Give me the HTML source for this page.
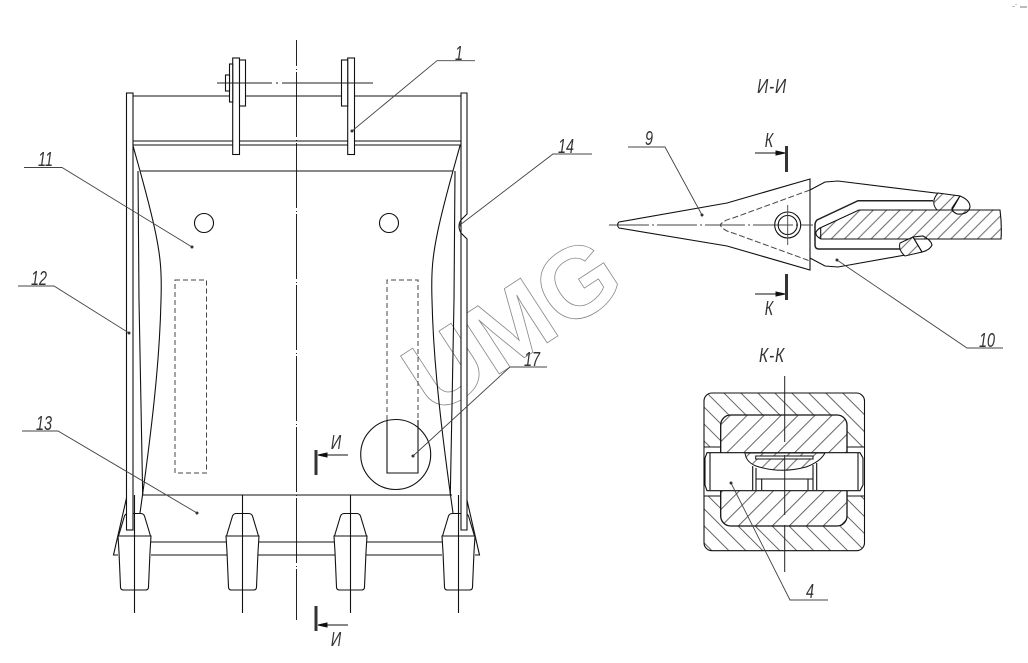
<!DOCTYPE html>
<html><head><meta charset="utf-8"><style>
html,body{margin:0;padding:0;background:#fff;width:1028px;height:663px;overflow:hidden}
svg{display:block}
text{font-family:"Liberation Sans",sans-serif;font-style:italic;font-size:20px;fill:#333;text-anchor:middle}
.m{fill:none;stroke:#111;stroke-width:1.1}
.t{fill:none;stroke:#444;stroke-width:.9}
.c{fill:none;stroke:#222;stroke-width:1;stroke-dasharray:65 3 1 2}
.d{fill:none;stroke:#444;stroke-width:1;stroke-dasharray:5 3}
.k{stroke:#333;stroke-width:3;fill:none}
</style></head><body>
<svg width="1028" height="663" viewBox="0 0 1028 663" xmlns="http://www.w3.org/2000/svg">
<defs>
<pattern id="hf" width="12" height="12" patternUnits="userSpaceOnUse" patternTransform="rotate(45)"><rect width="12" height="12" fill="#fff"/><line x1="6" y1="0" x2="6" y2="12" stroke="#555" stroke-width=".9"/></pattern>
<pattern id="hb" width="12" height="12" patternUnits="userSpaceOnUse" patternTransform="rotate(-45)"><rect width="12" height="12" fill="#fff"/><line x1="6" y1="0" x2="6" y2="12" stroke="#555" stroke-width=".9"/></pattern>
<pattern id="hs" width="9.400" height="9.400" patternUnits="userSpaceOnUse" patternTransform="rotate(45)"><rect width="9.400" height="9.400" fill="#fff"/><line x1="4.700" y1="0" x2="4.700" y2="9.400" stroke="#555" stroke-width=".9"/></pattern>
<g id="side">
<path class="m" d="M132.700,144.700 C140,171 150,205 156,235 C160,255 162,270 161,300 C160,345 156,400 140,513"/>
<path class="m" d="M138,171 L139,300 L142.700,495"/>
<path class="m" d="M126.500,498 L113.500,555 L118,555"/>
</g>
<g id="tooth">
<path class="m" d="M-16,536 L-10,516 Q-9,513.500 -6,513.500 L6,513.500 Q9,513.500 10,516 L16,536"/>
<path d="M-16.500,536 L16.500,536 L15.500,552 L14,587 Q14,590 11,590 L-11,590 Q-14,590 -14,587 L-15.500,552 Z" fill="#fff" stroke="#111" stroke-width="1.100"/>
<line class="m" x1="0" y1="495" x2="0" y2="613"/>
</g>
</defs>
<rect width="1028" height="663" fill="#fff"/>

<!-- watermark -->
<text transform="translate(433,417) rotate(-33)" style="font-family:'Liberation Sans',sans-serif;font-style:normal;font-weight:bold;font-size:100px;fill:none;stroke:#888;stroke-width:.8;text-anchor:start">UMG</text>

<!-- bucket -->
<line class="c" x1="296.500" y1="1" x2="296.500" y2="620"/>
<rect x="290" y="0" width="12" height="40" fill="#fff"/>
<use href="#side"/>
<use href="#side" transform="translate(593,0) scale(-1,1)"/>
<g class="m">
<line x1="132.500" y1="96" x2="461" y2="96"/>
<line x1="132.500" y1="141" x2="461" y2="141"/>
<line x1="132.500" y1="145" x2="461" y2="145"/>
<line x1="140" y1="171" x2="453" y2="171"/>
<line x1="143" y1="495" x2="452" y2="495"/>
<line x1="151" y1="542" x2="442" y2="542"/>
<line x1="151" y1="555" x2="442" y2="555"/>
</g>
<g fill="#fff" stroke="#111" stroke-width="1.100">
<rect x="232.700" y="58" width="6.800" height="96.500"/>
<rect x="239.500" y="60" width="6" height="46"/>
<rect x="229.500" y="64" width="3.200" height="38"/>
<rect x="225.500" y="75" width="4" height="16"/>
<rect x="347.700" y="58" width="6.800" height="96.500"/>
<rect x="341.500" y="60" width="6.200" height="46"/>
</g>
<line x1="217" y1="83" x2="373" y2="83" stroke="#222" stroke-width="1" stroke-dasharray="55 4 2 4 200"/>
<circle class="m" cx="204" cy="223" r="9.500"/>
<circle class="m" cx="389" cy="223" r="9.500"/>
<rect class="d" x="175" y="280" width="31.500" height="193"/>
<path class="d" d="M387,420 L387,280 L418,280 L418,420"/>
<circle class="m" cx="395.700" cy="454.500" r="35"/>
<path class="m" d="M387,420 L387,473 L418,473 L418,420"/>
<use href="#tooth" x="134.500"/>
<use href="#tooth" x="242.500"/>
<use href="#tooth" x="350.500"/>
<use href="#tooth" x="458.500"/>
<!-- side plates over adapters -->
<rect x="126.500" y="93" width="6.500" height="437" fill="#fff" stroke="#111" stroke-width="1.100"/>
<path d="M461,93 L467,93 L467,214 L461,220 Q457,226 461,233 L467,239 L467,530 L461,530 Z" fill="#fff" stroke="#111" stroke-width="1.100"/>

<!-- section marks -->
<line class="k" x1="316" y1="450" x2="316" y2="475"/>
<line class="k" x1="316" y1="606" x2="316" y2="631"/>
<line class="k" x1="786.500" y1="146" x2="786.500" y2="172"/>
<line class="k" x1="786.500" y1="274" x2="786.500" y2="300"/>
<g stroke="#111" stroke-width="1" fill="#111">
<line x1="348" y1="455" x2="318" y2="455"/><path d="M318,455 L327,453 L327,457 Z"/>
<line x1="348" y1="625" x2="318" y2="625"/><path d="M318,625 L327,623 L327,627 Z"/>
<line x1="755" y1="153" x2="785" y2="153"/><path d="M785,153 L776,151 L776,155 Z"/>
<line x1="755" y1="294" x2="785" y2="294"/><path d="M785,294 L776,292 L776,296 Z"/>
</g>

<!-- tooth section -->
<path class="m" d="M810,190 L825,182 L838,181 L960,196"/>
<path class="m" d="M810,258 L825,266 L838,267 L922,252"/>
<path d="M933,200.700 L858,200.700 L817,220 Q815,222 815,225 L815,245 Q815,249 819,249 L900,249" fill="none" stroke="#222" stroke-width="1.500"/>
<path d="M859,210 L1000,210 Q1002,225 1001,239 L821,239 Q815,236 816,232 Q817,230 820,228 Z" fill="url(#hs)" stroke="#111" stroke-width="1.100"/>
<line class="m" x1="820.700" y1="228" x2="820.700" y2="239"/>
<path d="M938,193 L960,196 L952,210 L937,210 Q930,202 938,193 Z" fill="url(#hs)" stroke="#111" stroke-width="1"/>
<path d="M913,237 L900,243 Q898,250 905,256 L922,252 Z" fill="url(#hs)" stroke="#111" stroke-width="1"/>
<path class="m" d="M960,196 Q970,200 970,207 Q968,215 957,214 Q951,211 952,208 Z"/>
<path class="m" d="M913,237 L923,236 Q931,240 932,245 Q930,250 922,252 Z"/>
<path d="M810,179 L727,203 L619,222 Q616,225 619,228 L727,246 L810,270 Z" fill="#fff" stroke="#111" stroke-width="1.100"/>
<path class="d" style="stroke-dasharray:6 2.500" d="M810,190 L733,218 Q724,220 720,225 Q724,231 733,233 L810,261"/>
<line x1="609" y1="225" x2="813" y2="225" stroke="#444" stroke-width="1.100" stroke-dasharray="40 3 2 3"/>
<circle class="m" cx="787.700" cy="225" r="13"/>
<circle class="m" cx="787.700" cy="225" r="9.500"/>
<line class="t" x1="787.700" y1="205" x2="787.700" y2="245"/>

<!-- K-K section -->
<rect x="704" y="393" width="160.500" height="157.700" rx="8" fill="url(#hb)" stroke="#111" stroke-width="1.100"/>
<rect x="704.500" y="447" width="17" height="49" fill="#fff"/>
<rect x="847" y="447" width="17" height="49" fill="#fff"/>
<g class="m">
<line x1="704" y1="447" x2="721" y2="447"/><line x1="704" y1="496" x2="721" y2="496"/>
<line x1="847" y1="447" x2="864" y2="447"/><line x1="847" y1="496" x2="864" y2="496"/>
</g>
<rect x="720.700" y="415" width="126.300" height="111" rx="10" fill="url(#hf)" stroke="#111" stroke-width="1.300"/>
<path d="M707,452.700 L860,452.700 L863,458 L863,485 L860,490.700 L707,490.700 L705,485 L705,458 Z" fill="#fff" stroke="#111" stroke-width="1.100"/>
<g class="m">
<line x1="710" y1="453" x2="710" y2="490"/>
<line x1="858" y1="453" x2="858" y2="490"/>
</g>
<path d="M745,453 Q746,462 756,466 Q780,474 806,467 Q820,462 825,453 Z" fill="url(#hs)" stroke="#111" stroke-width="1"/>
<path class="m" d="M752.700,466 L752.700,490 M816.700,463 L816.700,490 M756,468 L756,490 M813,465 L813,490 M756,479 L813,479 M761.700,479 L761.700,490 M808,479 L808,490"/>
<rect x="755.700" y="456" width="57.300" height="3" fill="#fff" stroke="#111" stroke-width="1"/>
<line x1="784.700" y1="376" x2="784.700" y2="442" stroke="#222"/>
<line x1="784.700" y1="455" x2="784.700" y2="515" stroke="#222"/>
<line x1="784.700" y1="525" x2="784.700" y2="572" stroke="#222"/>

<!-- leaders -->
<g class="t">
<polyline points="475,60.700 437,60.700 352,131"/>
<polyline points="24,167.500 62,167.500 192,247"/>
<polyline points="18,286 54,286 129,333"/>
<polyline points="22,431 58,431 197,513"/>
<polyline points="592,154 553,154 460,225"/>
<polyline points="547,367 510,367 413,456"/>
<polyline points="628,147 665,147 702,215"/>
<polyline points="1003,348 967,348 837,260"/>
<polyline points="828,600 790,600 731,483"/>
</g>
<g fill="#333">
<circle cx="352" cy="131" r="1.500"/><circle cx="192" cy="247" r="1.500"/><circle cx="129" cy="333" r="1.500"/>
<circle cx="197" cy="513" r="1.500"/><circle cx="460" cy="225" r="1.500"/><circle cx="413" cy="456" r="1.500"/>
<circle cx="702" cy="215" r="1.500"/><circle cx="837" cy="260" r="1.500"/><circle cx="731" cy="483" r="1.500"/>
</g>
<text transform="translate(459,60) scale(.72,1)">1</text>
<text transform="translate(45.500,166) scale(.72,1)">11</text>
<text transform="translate(39,285) scale(.72,1)">12</text>
<text transform="translate(44,430) scale(.72,1)">13</text>
<text transform="translate(566,153) scale(.72,1)">14</text>
<text transform="translate(532,366) scale(.72,1)">17</text>
<text transform="translate(649,145) scale(.72,1)">9</text>
<text transform="translate(987,347) scale(.72,1)">10</text>
<text transform="translate(810,598) scale(.72,1)">4</text>
<text transform="translate(336,449) scale(.72,1)">И</text>
<text transform="translate(336,646) scale(.72,1)">И</text>
<text transform="translate(769,147) scale(.72,1)">К</text>
<text transform="translate(769,315) scale(.72,1)">К</text>
<text transform="translate(772,93) scale(.78,1)" style="letter-spacing:1px">И-И</text>
<text transform="translate(772,362) scale(.78,1)" style="letter-spacing:1px">К-К</text>

<!-- tiny corner marks -->
<rect x="1012" y="6" width="3" height="1" fill="#bbb"/><rect x="1015" y="4" width="2" height="1" fill="#ccc"/><rect x="1020" y="6" width="7" height="2" fill="#bbb"/>
</svg>
</body></html>
